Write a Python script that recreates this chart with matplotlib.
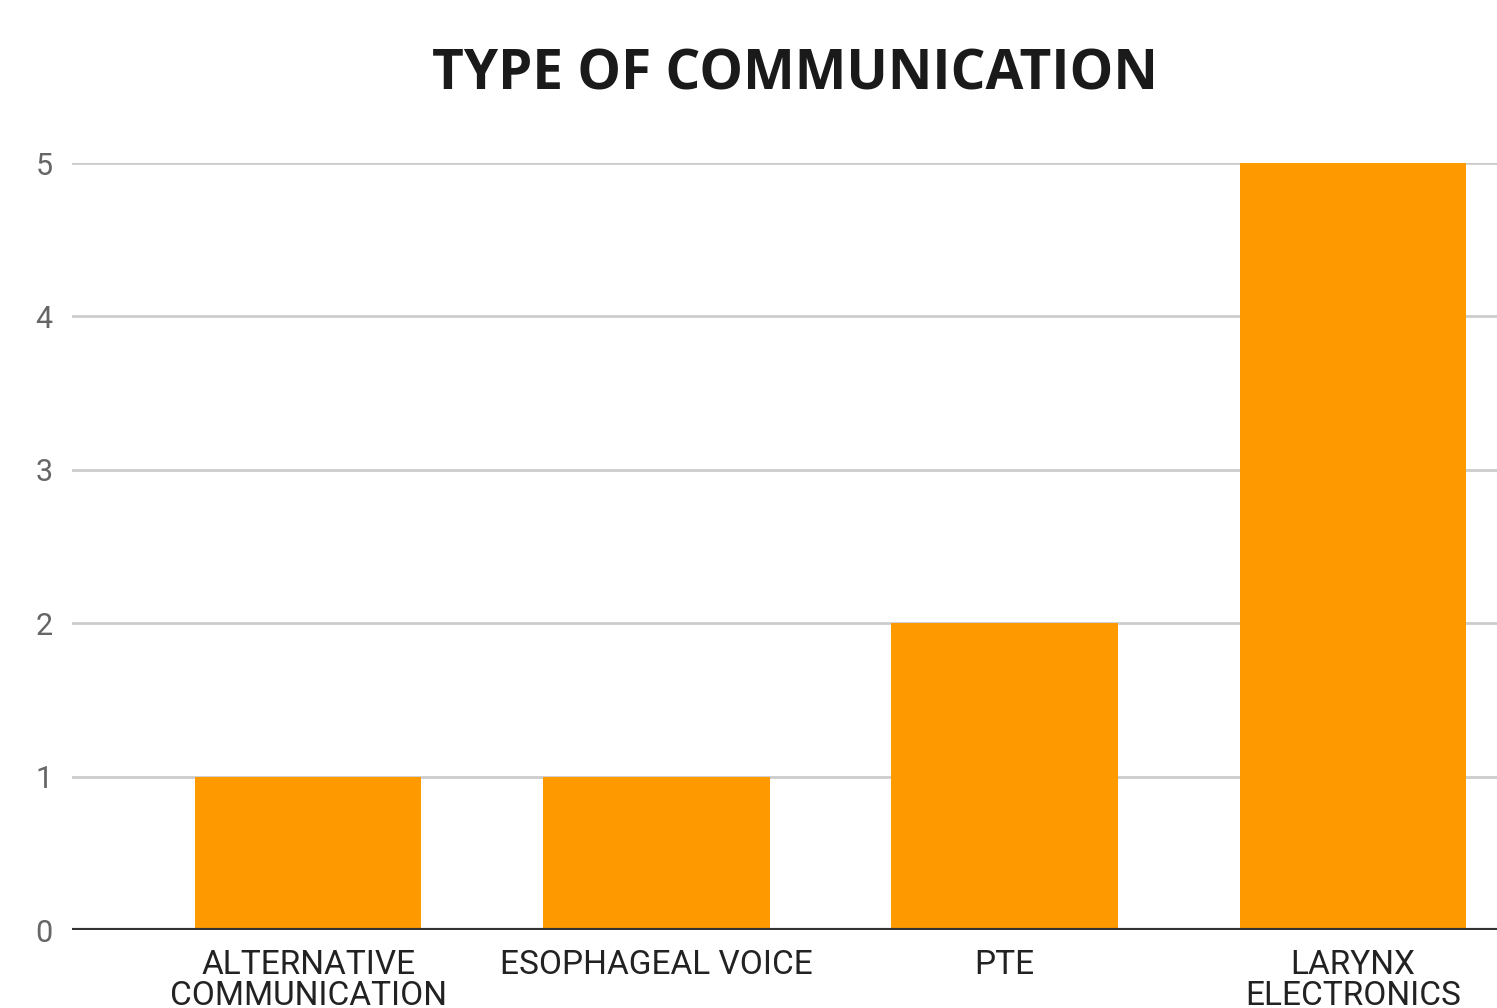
import matplotlib.pyplot as plt

categories = ["ALTERNATIVE\nCOMMUNICATION", "ESOPHAGEAL VOICE", "PTE", "LARYNX\nELECTRONICS"]
counts = [1, 1, 2, 5]
y_ticks = [0, 1, 2, 3, 4, 5]

fig = plt.figure(figsize=(14.97, 10.08), dpi=100)
ax = fig.add_axes([72 / 1497, 78 / 1008, 1 - 72 / 1497, 767 / 1008])

x = list(range(len(categories)))
ax.bar(x, counts, width=0.65, color="#FF9900", zorder=3)

ax.set_xlim(-0.678, 3.414)
ax.set_ylim(0, 5)
ax.set_yticks(y_ticks)
ax.set_xticks(x)
ax.set_xticklabels(categories, fontfamily="Roboto", fontsize=24, color="#222222",
                   linespacing=0.95)
ax.set_yticklabels([str(v) for v in y_ticks], fontfamily="Roboto", fontsize=22,
                   color="#666666")
ax.tick_params(axis="both", length=0)
ax.tick_params(axis="x", pad=14)
ax.tick_params(axis="y", pad=14)

ax.grid(axis="y", color="#CCCCCC", linewidth=2, zorder=0)
ax.axhline(0, color="#333333", linewidth=3, zorder=4)
for s in ax.spines.values():
    s.set_visible(False)

fig.text(795 / 1497, 1 - 75 / 1008, "TYPE OF COMMUNICATION", ha="center", va="center",
         fontfamily="Open Sans", fontweight="bold", fontsize=39.5, color="#1a1a1a")

fig.savefig("out.png", dpi=100)
